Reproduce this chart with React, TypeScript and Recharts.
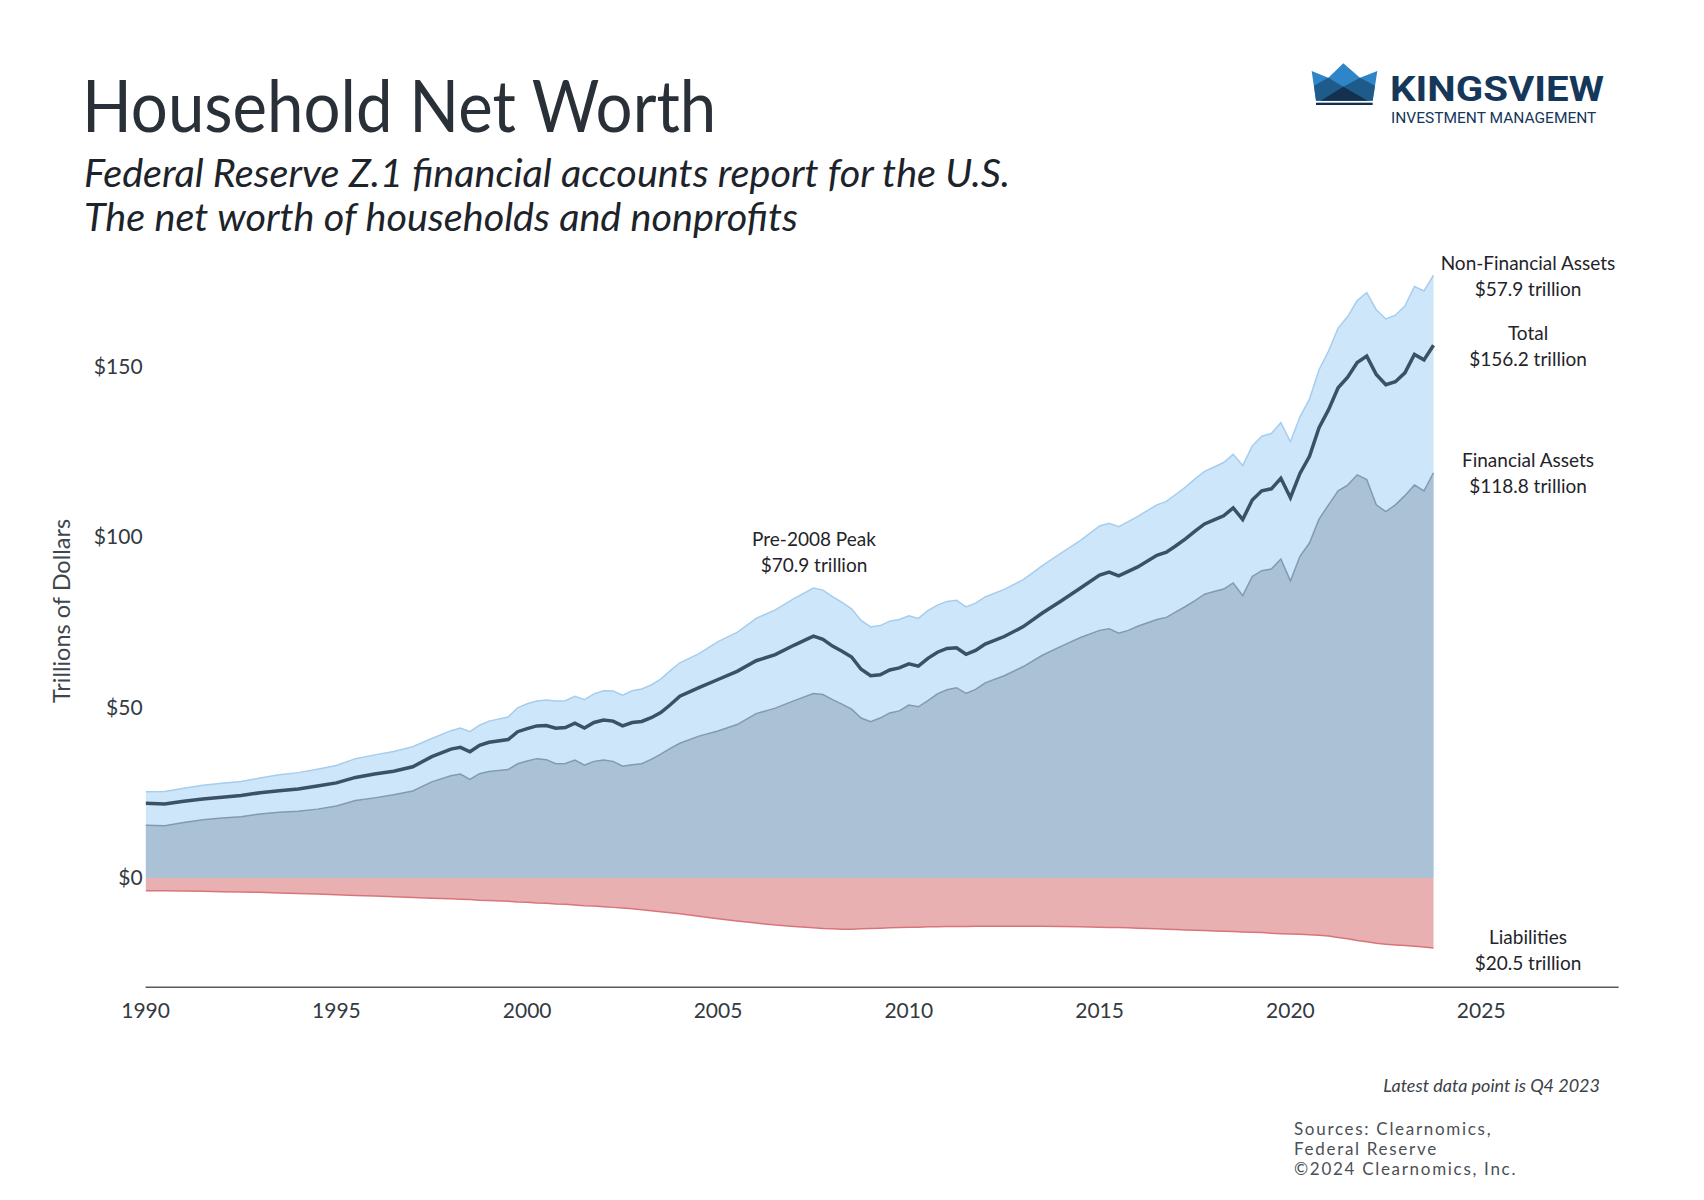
import { Area, ComposedChart, Line, XAxis, YAxis } from "recharts";

const FONT = "Lato, 'Open Sans', sans-serif";
const INK = "#2a3038";

// sample dates (decimal years)
const quarters = [
  1990.0, 1990.5, 1991.0, 1991.5, 1992.0, 1992.5, 1993.0, 1993.5, 1994.0, 1994.5,
  1995.0, 1995.5, 1996.0, 1996.5, 1997.0, 1997.5, 1998.0, 1998.25, 1998.5, 1998.75,
  1999.0, 1999.5, 1999.75, 2000.0, 2000.25, 2000.5, 2000.75, 2001.0, 2001.25, 2001.5,
  2001.75, 2002.0, 2002.25, 2002.5, 2002.75, 2003.0, 2003.25, 2003.5, 2003.75, 2004.0,
  2004.5, 2005.0, 2005.5, 2006.0, 2006.5, 2007.0, 2007.5, 2007.75, 2008.0, 2008.25,
  2008.5, 2008.75, 2009.0, 2009.25, 2009.5, 2009.75, 2010.0, 2010.25, 2010.5, 2010.75,
  2011.0, 2011.25, 2011.5, 2011.75, 2012.0, 2012.5, 2013.0, 2013.5, 2014.0, 2014.5,
  2015.0, 2015.25, 2015.5, 2015.75, 2016.0, 2016.5, 2016.75, 2017.0, 2017.25, 2017.5,
  2017.75, 2018.0, 2018.25, 2018.5, 2018.75, 2019.0, 2019.25, 2019.5, 2019.75, 2020.0,
  2020.25, 2020.5, 2020.75, 2021.0, 2021.25, 2021.5, 2021.75, 2022.0, 2022.25, 2022.5,
  2022.75, 2023.0, 2023.25, 2023.5, 2023.75,
];

// total assets = financial + non-financial (top of the light blue band), $T
const totalAssets = [
  25.3, 25.4, 26.3, 27.2, 27.8, 28.3, 29.3, 30.3, 30.9, 31.9,
  33.0, 35.0, 36.1, 37.1, 38.5, 40.9, 43.2, 44.0, 42.9, 44.8,
  46.0, 47.2, 49.9, 51.1, 51.9, 52.2, 51.9, 52.0, 53.3, 52.3,
  54.0, 54.9, 54.8, 53.6, 54.9, 55.4, 56.6, 58.3, 60.8, 63.1,
  65.8, 69.3, 72.0, 76.1, 78.6, 82.0, 85.0, 84.4, 82.5, 80.8,
  78.9, 75.5, 73.6, 74.0, 75.3, 75.8, 76.9, 76.1, 78.4, 80.0,
  81.1, 81.4, 79.5, 80.6, 82.4, 84.6, 87.5, 91.6, 95.3, 99.0,
  103.2, 104.0, 103.0, 104.5, 106.0, 109.4, 110.4, 112.5, 114.6, 117.0,
  119.2, 120.5, 121.8, 124.2, 120.9, 126.7, 129.5, 130.3, 133.5, 127.9,
  135.2, 140.4, 149.0, 154.5, 161.2, 164.6, 169.3, 171.6, 166.6, 163.9,
  165.0, 167.7, 173.4, 172.1, 176.7,
];

const financialAssets = [
  15.5, 15.3, 16.3, 17.1, 17.6, 18.0, 18.8, 19.3, 19.6, 20.2,
  21.1, 22.7, 23.5, 24.4, 25.5, 28.2, 30.0, 30.5, 28.9, 30.6,
  31.2, 31.8, 33.5, 34.3, 35.0, 34.7, 33.5, 33.6, 34.6, 33.1,
  34.2, 34.6, 34.2, 32.8, 33.2, 33.5, 34.8, 36.3, 38.0, 39.5,
  41.6, 43.1, 45.0, 48.2, 49.8, 52.0, 54.1, 53.8, 52.3, 51.0,
  49.5, 46.9, 45.8, 46.9, 48.4, 49.0, 50.7, 50.2, 52.0, 54.0,
  55.2, 55.8, 54.1, 55.3, 57.2, 59.3, 62.0, 65.3, 68.0, 70.5,
  72.6, 73.1, 71.8, 72.6, 73.8, 75.8, 76.4, 78.0, 79.6, 81.3,
  83.2, 84.0, 84.7, 86.5, 82.8, 88.4, 90.1, 90.6, 93.5, 87.1,
  94.3, 98.2, 105.2, 109.4, 113.5, 115.2, 118.2, 116.8, 109.4, 107.4,
  109.4, 112.1, 115.2, 113.5, 118.8,
];

const netWorth = [
  21.9, 21.7, 22.5, 23.2, 23.7, 24.2, 25.0, 25.6, 26.1, 27.0,
  27.9, 29.5, 30.5, 31.3, 32.6, 35.6, 37.8, 38.3, 37.0, 38.9,
  39.8, 40.6, 42.9, 43.8, 44.6, 44.7, 43.9, 44.1, 45.4, 44.0,
  45.6, 46.3, 46.0, 44.6, 45.6, 45.9, 47.0, 48.5, 50.8, 53.3,
  55.8, 58.2, 60.6, 63.7, 65.5, 68.3, 70.9, 70.0, 68.0, 66.5,
  64.8, 61.2, 59.3, 59.6, 61.0, 61.6, 62.8, 62.1, 64.4, 66.2,
  67.3, 67.5, 65.6, 66.7, 68.6, 70.8, 73.7, 77.7, 81.3, 85.0,
  88.8, 89.7, 88.6, 89.9, 91.2, 94.6, 95.5, 97.4, 99.4, 101.7,
  103.8, 105.0, 106.2, 108.5, 105.1, 110.8, 113.5, 114.1, 117.2, 111.5,
  118.6, 123.6, 132.0, 137.3, 143.7, 146.8, 151.1, 153.0, 147.6, 144.6,
  145.5, 148.1, 153.5, 151.9, 156.2,
];

// plotted below zero
const liabilities = [
  -3.7, -3.7, -3.8, -3.9, -4.0, -4.1, -4.2, -4.4, -4.5, -4.7,
  -4.9, -5.1, -5.3, -5.5, -5.7, -5.9, -6.1, -6.2, -6.3, -6.5,
  -6.6, -6.8, -7.0, -7.1, -7.3, -7.4, -7.6, -7.7, -7.9, -8.1,
  -8.2, -8.4, -8.6, -8.8, -9.0, -9.3, -9.6, -9.9, -10.2, -10.5,
  -11.2, -11.9, -12.6, -13.2, -13.8, -14.2, -14.6, -14.8, -14.9, -15.0,
  -15.0, -14.9, -14.8, -14.7, -14.6, -14.5, -14.4, -14.4, -14.3, -14.3,
  -14.2, -14.2, -14.2, -14.1, -14.1, -14.1, -14.1, -14.1, -14.2, -14.3,
  -14.4, -14.5, -14.5, -14.6, -14.7, -14.9, -15.0, -15.1, -15.2, -15.3,
  -15.4, -15.5, -15.6, -15.7, -15.8, -15.9, -16.0, -16.2, -16.3, -16.4,
  -16.5, -16.6, -16.8, -17.0, -17.4, -17.8, -18.3, -18.7, -19.1, -19.4,
  -19.6, -19.8, -20.0, -20.2, -20.5,
];

const yearTicks = [1990, 1995, 2000, 2005, 2010, 2015, 2020, 2025];
const valueTicks = [0, 50, 100, 150];

const data = quarters.map((q, i) => ({
  q,
  totalAssets: totalAssets[i],
  financial: financialAssets[i],
  netWorth: netWorth[i],
  liabilities: liabilities[i],
}));

function Note({ x, y, lines }: { x: number; y: number; lines: string[] }) {
  return (
    <div
      style={{
        position: "absolute",
        left: x - 150,
        top: y - 13,
        width: 300,
        textAlign: "center",
        fontFamily: FONT,
        fontSize: 19,
        lineHeight: "26px",
        color: "#1f242a",
      }}
    >
      {lines.map((l) => (
        <div key={l}>{l}</div>
      ))}
    </div>
  );
}

function Logo() {
  return (
    <>
      <svg
        width={80}
        height={55}
        viewBox="0 0 240 165"
        style={{ position: "absolute", left: 1300, top: 55 }}
      >
        <polygon points="35,48 85,68 130,25 180,68 232,48 218,137 48,137" fill="#2e86c8" />
        <polygon points="42,92 85,68 130,95 180,68 225,92 218,137 48,137" fill="#1e5a8a" />
        <polygon points="62,137 130,95 203,137" fill="#14304f" />
        <rect x={48} y={143} width={170} height={7} fill="#14304f" />
      </svg>
      <div
        style={{
          position: "absolute",
          left: 1390,
          top: 71,
          fontFamily: "Roboto, sans-serif",
          fontWeight: 700,
          fontSize: 35,
          lineHeight: "38px",
          color: "#15375a",
          transform: "scaleX(1.15)",
          transformOrigin: "left",
          whiteSpace: "nowrap",
        }}
      >
        KINGSVIEW
      </div>
      <div
        style={{
          position: "absolute",
          left: 1391,
          top: 112,
          fontFamily: "Roboto, sans-serif",
          fontSize: 14.5,
          lineHeight: "14px",
          color: "#15375a",
          transform: "scaleX(1.07)",
          transformOrigin: "left",
          whiteSpace: "nowrap",
        }}
      >
        INVESTMENT MANAGEMENT
      </div>
    </>
  );
}

export default function App() {
  return (
    <div
      style={{
        position: "absolute",
        left: 0,
        top: 0,
        width: 1704,
        height: 1200,
        background: "#ffffff",
        overflow: "hidden",
      }}
    >
      <div
        style={{
          position: "absolute",
          left: 82,
          top: 63,
          fontFamily: FONT,
          fontSize: 71,
          lineHeight: "84px",
          color: INK,
          whiteSpace: "nowrap",
          transform: "scaleX(0.92)",
          transformOrigin: "left",
        }}
      >
        Household Net Worth
      </div>
      <div
        style={{
          position: "absolute",
          left: 84,
          top: 150,
          fontFamily: FONT,
          fontStyle: "italic",
          fontSize: 39.6,
          lineHeight: "44px",
          color: "#1d232a",
          whiteSpace: "nowrap",
        }}
      >
        <div>Federal Reserve Z.1 financial accounts report for the U.S.</div>
        <div>The net worth of households and nonprofits</div>
      </div>
      <Logo />

      <div style={{ position: "absolute", left: 0, top: 0 }}>
        <ComposedChart
          width={1704}
          height={1200}
          data={data}
          margin={{ top: 264, right: 85.4, bottom: 182.8, left: 0 }}
        >
          <XAxis
            dataKey="q"
            type="number"
            domain={[1990, 2028.6]}
            ticks={yearTicks}
            tickFormatter={(v) => String(v)}
            height={30}
            axisLine={{ stroke: "#555b61", strokeWidth: 1.5 }}
            tickLine={false}
            tickSize={0}
            tickMargin={16}
            tick={{ fontFamily: FONT, fontSize: 21, fill: "#333a41" }}
            allowDataOverflow
          />
          <YAxis
            type="number"
            domain={[-32, 180]}
            ticks={valueTicks}
            tickFormatter={(v) => `$${v}`}
            width={145.6}
            axisLine={false}
            tickLine={false}
            tickSize={0}
            tickMargin={3}
            tick={{ fontFamily: FONT, fontSize: 21, fill: "#333a41" }}
            allowDataOverflow
          />
          <Area
            dataKey="totalAssets"
            type="linear"
            baseValue={0}
            fill="#cde6f9"
            fillOpacity={1}
            stroke="#a6cdee"
            strokeWidth={1.5}
            isAnimationActive={false}
          />
          <Area
            dataKey="financial"
            type="linear"
            baseValue={0}
            fill="#abc1d6"
            fillOpacity={1}
            stroke="#7f9bb5"
            strokeWidth={1.5}
            isAnimationActive={false}
          />
          <Area
            dataKey="liabilities"
            type="linear"
            baseValue={0}
            fill="#e8b0b0"
            fillOpacity={1}
            stroke="#d9757a"
            strokeWidth={1.5}
            isAnimationActive={false}
          />
          <Line
            dataKey="netWorth"
            type="linear"
            stroke="#3b5166"
            strokeWidth={3.5}
            dot={false}
            activeDot={false}
            isAnimationActive={false}
          />
        </ComposedChart>
      </div>

      <div
        style={{
          position: "absolute",
          left: 61,
          top: 611,
          transform: "translate(-50%, -50%) rotate(-90deg)",
          fontFamily: FONT,
          fontSize: 23.5,
          color: "#40464c",
          whiteSpace: "nowrap",
        }}
      >
        Trillions of Dollars
      </div>

      <Note x={1528} y={263} lines={["Non-Financial Assets", "$57.9 trillion"]} />
      <Note x={1528} y={333} lines={["Total", "$156.2 trillion"]} />
      <Note x={1528} y={460} lines={["Financial Assets", "$118.8 trillion"]} />
      <Note x={1528} y={937} lines={["Liabilities", "$20.5 trillion"]} />
      <Note x={814} y={539} lines={["Pre-2008 Peak", "$70.9 trillion"]} />

      <div
        style={{
          position: "absolute",
          right: 104,
          top: 1073,
          fontFamily: FONT,
          fontStyle: "italic",
          fontSize: 18,
          lineHeight: "24px",
          color: "#3b4147",
          whiteSpace: "nowrap",
        }}
      >
        Latest data point is Q4 2023
      </div>
      <div
        style={{
          position: "absolute",
          left: 1294,
          top: 1119,
          fontFamily: FONT,
          fontSize: 17,
          lineHeight: "20px",
          letterSpacing: "1.7px",
          color: "#4a5056",
          whiteSpace: "nowrap",
        }}
      >
        <div>Sources: Clearnomics,</div>
        <div>Federal Reserve</div>
        <div>©2024 Clearnomics, Inc.</div>
      </div>
    </div>
  );
}
